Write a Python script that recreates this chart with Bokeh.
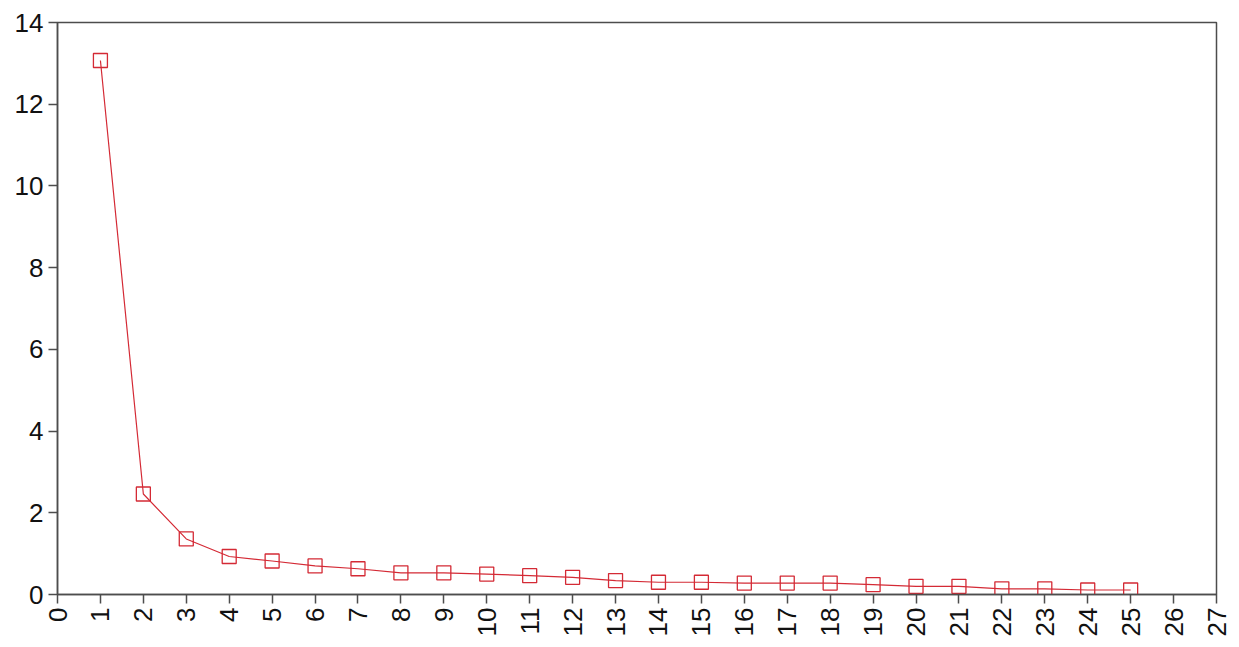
import numpy as np
from bokeh.plotting import figure
from bokeh.models import FixedTicker, Range1d
from bokeh.embed import file_html
from bokeh.resources import INLINE

components = list(range(1, 26))
eigenvalues = [13.07, 2.46, 1.36, 0.93, 0.82, 0.70, 0.63, 0.53, 0.53, 0.50,
               0.46, 0.42, 0.34, 0.30, 0.30, 0.28, 0.28, 0.28, 0.24, 0.20,
               0.20, 0.14, 0.14, 0.11, 0.11]
x_ticks = list(range(0, 28))
y_ticks = [0, 2, 4, 6, 8, 10, 12, 14]

RED = "#d42a35"
AX = "#4d4d4d"
FONT = "Liberation Sans"

p = figure(width=1231, height=639, output_backend="svg", toolbar_location=None,
           x_range=Range1d(0, 27), y_range=Range1d(0, 14),
           min_border_left=57, min_border_right=15, min_border_top=22, min_border_bottom=45)

p.line(components, eigenvalues, line_color=RED, line_width=1.2)
p.scatter(components, eigenvalues, marker="square", size=14, fill_color=None,
          line_color=RED, line_width=1.3)

p.xgrid.visible = False
p.ygrid.visible = False
p.outline_line_color = AX
p.outline_line_width = 1.5

for ax in (p.xaxis[0], p.yaxis[0]):
    ax.axis_line_color = AX
    ax.axis_line_width = 1.5
    ax.major_tick_line_color = AX
    ax.major_tick_line_width = 1.5
    ax.minor_tick_line_color = None
    ax.major_label_text_font = FONT
    ax.major_label_text_font_size = "26px"
    ax.major_label_text_color = "#111111"

p.xaxis[0].ticker = FixedTicker(ticks=x_ticks)
p.yaxis[0].ticker = FixedTicker(ticks=y_ticks)
p.xaxis[0].major_tick_out = 9
p.xaxis[0].major_tick_in = 0
p.yaxis[0].major_tick_out = 9
p.yaxis[0].major_tick_in = 0
p.xaxis[0].major_label_orientation = np.pi / 2
p.xaxis[0].major_label_standoff = 4
p.yaxis[0].major_label_standoff = 5

open("out.html", "w").write(file_html(p, INLINE))
